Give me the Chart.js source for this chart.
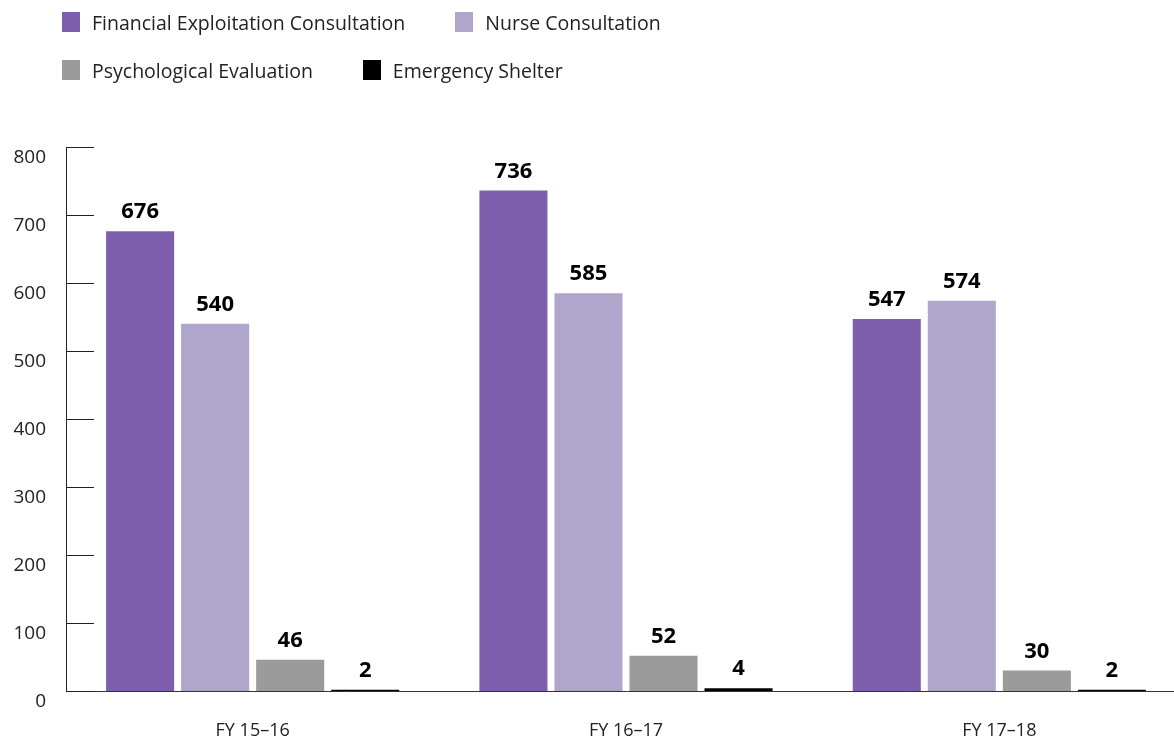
<!DOCTYPE html>
<html>
<head>
<meta charset="utf-8">
<script src="https://cdn.jsdelivr.net/npm/chart.js@4/dist/chart.umd.min.js"></script>
<style>
  html, body { margin: 0; padding: 0; background: #fff; overflow: hidden; }
  #wrap { position: relative; width: 1190px; height: 743px; }
  #legend { position: absolute; left: 62px; top: -2px; font-family: "Open Sans", sans-serif; font-size: 19.5px; color: #222; }
  .row { display: flex; gap: 50px; height: 48px; align-items: center; }
  .item { display: flex; align-items: center; }
  .box { width: 18px; height: 20px; margin-right: 12px; }
</style>
</head>
<body>
<div id="wrap">
  <div id="legend"></div>
  <canvas id="chart" width="1190" height="743"></canvas>
</div>
<script>
var years = ["FY 15\u201316", "FY 16\u201317", "FY 17\u201318"];
var financial = [676, 736, 547];
var nurse = [540, 585, 574];
var psych = [46, 52, 30];
var shelter = [2, 4, 2];
var yTicks = [0, 100, 200, 300, 400, 500, 600, 700, 800];

var series = [
    { label: "Financial Exploitation Consultation", data: financial, color: "#7d5fae" },
    { label: "Nurse Consultation", data: nurse, color: "#b0a6cc" },
    { label: "Psychological Evaluation", data: psych, color: "#9b9b9b" },
    { label: "Emergency Shelter", data: shelter, color: "#000000" }
];

// legend in two rows like the original
var legend = document.getElementById("legend");
[[0, 1], [2, 3]].forEach(function(r) {
    var row = document.createElement("div");
    row.className = "row";
    r.forEach(function(i) {
        var it = document.createElement("div");
        it.className = "item";
        it.innerHTML = '<span class="box" style="background:' + series[i].color + '"></span>' + series[i].label;
        row.appendChild(it);
    });
    legend.appendChild(row);
});

var valueLabels = {
    id: "valueLabels",
    afterDatasetsDraw: function(chart) {
        var ctx = chart.ctx;
        ctx.save();
        ctx.font = "bold 22px 'Open Sans', sans-serif";
        ctx.fillStyle = "#000";
        ctx.textAlign = "center";
        ctx.textBaseline = "alphabetic";
        chart.data.datasets.forEach(function(ds, i) {
            chart.getDatasetMeta(i).data.forEach(function(bar, j) {
                ctx.fillText(ds.data[j], bar.x, bar.y - 13);
            });
        });
        ctx.restore();
    }
};

// short tick marks drawn inside the plot, off the y axis
var innerTicks = {
    id: "innerTicks",
    afterDraw: function(chart) {
        var ctx = chart.ctx;
        var y = chart.scales.y;
        var left = chart.chartArea.left;
        ctx.save();
        ctx.strokeStyle = "#222";
        ctx.lineWidth = 1;
        yTicks.forEach(function(v) {
            var py = Math.round(y.getPixelForValue(v)) + 0.5;
            ctx.beginPath();
            ctx.moveTo(left, py);
            ctx.lineTo(left + 28, py);
            ctx.stroke();
        });
        ctx.restore();
    }
};

new Chart(document.getElementById("chart"), {
    type: "bar",
    data: {
        labels: years,
        datasets: series.map(function(s) {
            return { label: s.label, data: s.data, backgroundColor: s.color };
        })
    },
    options: {
        responsive: false,
        animation: false,
        categoryPercentage: 0.804,
        barPercentage: 0.907,
        layout: { padding: { top: 147, right: 4, left: 0, bottom: 0 } },
        plugins: { legend: { display: false }, tooltip: { enabled: false } },
        scales: {
            x: {
                grid: { display: false, drawTicks: false },
                border: { display: true, color: "#333", width: 1 },
                ticks: { color: "#222", padding: 29, font: { family: "'Open Sans', sans-serif", size: 18 } },
                afterFit: function(s) { s.height = 52; }
            },
            y: {
                min: 0,
                max: 800,
                afterBuildTicks: function(s) { s.ticks = yTicks.map(function(v) { return { value: v }; }); },
                grid: { display: false, drawTicks: false },
                border: { display: true, color: "#222", width: 1 },
                ticks: { color: "#222", padding: 20, labelOffset: 11, font: { family: "'Open Sans', sans-serif", size: 19 } },
                afterFit: function(s) { s.width = 66; }
            }
        }
    },
    plugins: [valueLabels, innerTicks]
});
</script>
</body>
</html>
